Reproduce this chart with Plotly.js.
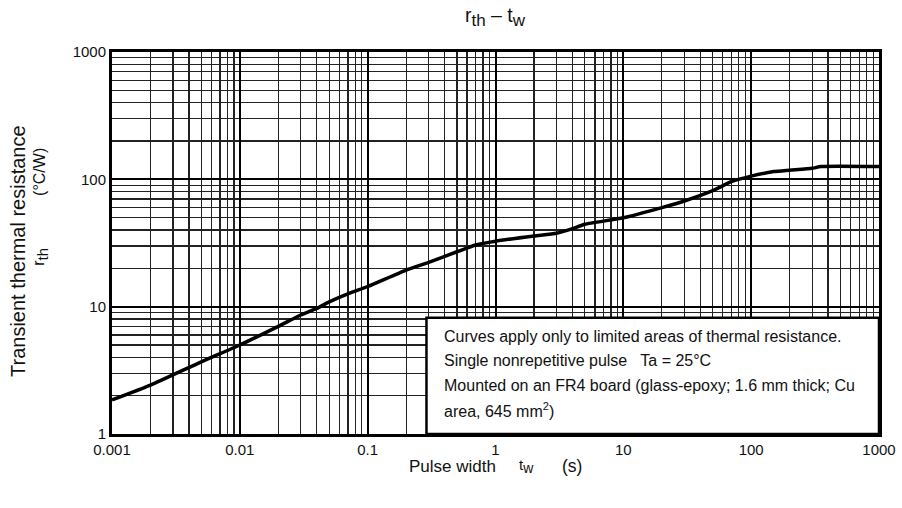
<!DOCTYPE html>
<html>
<head>
<meta charset="utf-8">
<script src="https://cdn.plot.ly/plotly-3.0.1.min.js"></script>
<style>
  html, body { margin: 0; padding: 0; background: #ffffff; }
  #chart { width: 902px; height: 508px; }
</style>
</head>
<body>
<div id="chart"></div>
<script>
// Transient thermal resistance vs. pulse width (single pulse)
const pulseWidth = [0.001, 0.002, 0.005, 0.01, 0.02, 0.03, 0.04, 0.05, 0.07, 0.1, 0.2, 0.3, 0.5, 0.7, 1, 2, 3, 4, 5, 10, 20, 30, 50, 70, 100, 150, 200, 300, 350, 1000];
const rth        = [1.85, 2.42, 3.69, 5.0, 7.0, 8.6, 9.7, 10.9, 12.6, 14.4, 19.4, 22.3, 27, 30.5, 32.7, 35.9, 37.7, 41.0, 44.4, 49.9, 60, 67.6, 81.5, 95.8, 106, 115, 118, 122, 126, 126];

const xTickVals = [0.001, 0.01, 0.1, 1, 10, 100, 1000];
const xTickText = ['0.001', '0.01', '0.1', '1', '10', '100', '1000'];
const yTickVals = [1, 10, 100, 1000];
const yTickText = ['1', '10', '100', '1000'];

const noteLines = [
  'Curves apply only to limited areas of thermal resistance.',
  'Single nonrepetitive pulse   Ta = 25°C',
  'Mounted on an FR4 board (glass-epoxy; 1.6 mm thick; Cu',
  'area, 645 mm<sup>2</sup>)'
];

// minor grid positions: 2..9 within each decade
function minorTicks(lo, hi) {
  const out = [];
  for (let e = lo; e < hi; e++) {
    for (let m = 2; m <= 9; m++) out.push(m * Math.pow(10, e));
  }
  return out;
}

const FONT = 'Liberation Sans, Arial, sans-serif';
const INK = '#111111';

// subscript drawn close to full size, like the datasheet lettering
function sub(s, px) {
  return '<sub><span style="font-size:' + px + 'px">' + s + '</span></sub>';
}

const trace = {
  x: pulseWidth,
  y: rth,
  type: 'scatter',
  mode: 'lines',
  line: { color: '#000000', width: 3.5, shape: 'spline', smoothing: 0.5 },
  hoverinfo: 'x+y'
};

function label(text, x, y, size, extra) {
  return Object.assign({
    xref: 'paper', yref: 'paper', x: x, y: y,
    xanchor: 'center', yanchor: 'middle',
    text: text, showarrow: false,
    font: { family: FONT, size: size, color: INK }
  }, extra || {});
}

const annotations = [
  // chart title
  label('r' + sub('th', 17) + ' – t' + sub('w', 17), 0.5, 1, 19.5, { yshift: 35 }),
  // y-axis title, two rotated lines
  label('Transient thermal resistance', -0.1226, 0.479, 20, { textangle: -90 }),
  label('r' + sub('th', 15), -0.0939, 0.464, 16, { textangle: -90 }),
  label('(°C/W)', -0.0939, 0.686, 16, { textangle: -90 }),
  // x-axis title
  label('Pulse width', 0.444, 0, 17, { yshift: -32 }),
  label('t' + sub('w', 14), 0.540, 0, 15, { yshift: -32 }),
  label('(s)', 0.600, 0, 17.5, { yshift: -32 })
];

noteLines.forEach((t, i) => {
  annotations.push(label(t, 0.430, 0.2565 - i * 0.0645, 16, { xanchor: 'left', align: 'left' }));
});

function logAxis(range, vals, text, minor) {
  return {
    type: 'log',
    range: range,
    tickvals: vals,
    ticktext: text,
    ticks: '',
    showgrid: true,
    gridcolor: '#000000',
    gridwidth: 2,
    showline: true,
    linecolor: '#000000',
    linewidth: 3,
    mirror: true,
    zeroline: false,
    tickfont: { family: FONT, size: 15, color: INK },
    minor: { tickvals: minor, showgrid: true, gridcolor: '#222222', gridwidth: 1.3, ticks: '' }
  };
}

const layout = {
  width: 902,
  height: 508,
  margin: { l: 112, r: 23, t: 52, b: 74 },
  paper_bgcolor: '#ffffff',
  plot_bgcolor: '#ffffff',
  showlegend: false,
  font: { family: FONT, size: 15, color: INK },
  xaxis: logAxis([-3, 3], xTickVals, xTickText, minorTicks(-3, 3)),
  yaxis: logAxis([0, 3], yTickVals, yTickText, minorTicks(0, 3)),
  shapes: [
    {
      type: 'rect', xref: 'paper', yref: 'paper',
      x0: 0.410, x1: 1.0, y0: 0.0, y1: 0.304,
      fillcolor: '#ffffff',
      line: { color: '#000000', width: 2.5 },
      layer: 'above'
    }
  ],
  annotations: annotations
};

Plotly.newPlot('chart', [trace], layout, { displayModeBar: false, staticPlot: true });
</script>
</body>
</html>
